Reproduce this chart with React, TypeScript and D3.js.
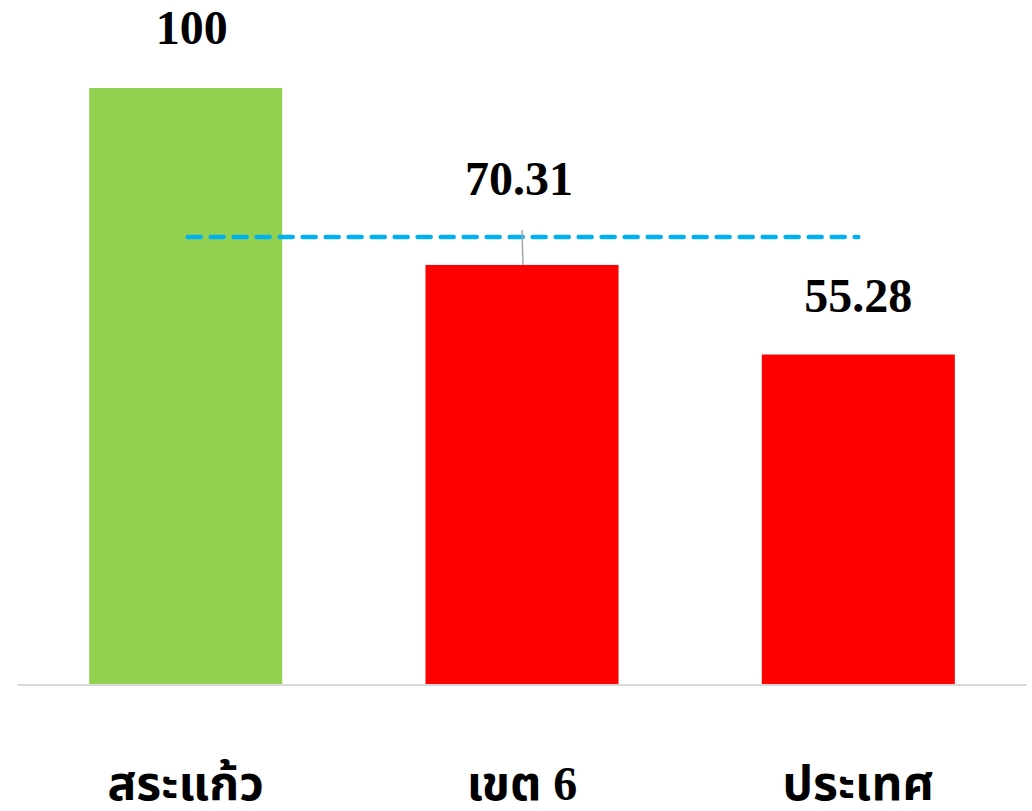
import React, { useEffect, useRef } from 'react';
import * as d3 from 'd3';

const categories = ['สระแก้ว', 'เขต 6', 'ประเทศ'];
const values = [100, 70.31, 55.28];
const barColors = ['#92d050', '#ff0000', '#ff0000'];
const targetValue = 75;

const App = () => {
    const svgRef = useRef<SVGSVGElement>(null);

    useEffect(() => {
        const svg = d3.select(svgRef.current);
        svg.selectAll('*').remove();

        const x = d3.scaleBand()
            .domain(categories)
            .range([17.5, 1026.5])
            .paddingInner(0.426)
            .paddingOuter(0.213);

        const y = d3.scaleLinear()
            .domain([0, 100])
            .range([684, 88]);

        const data = categories.map((c, i) => ({ cat: c, value: values[i], color: barColors[i] }));

        // Bars
        svg.selectAll('.bar')
            .data(data)
            .enter()
            .append('rect')
            .attr('x', d => x(d.cat)!)
            .attr('y', d => y(d.value))
            .attr('width', x.bandwidth())
            .attr('height', d => y(0) - y(d.value))
            .style('fill', d => d.color);

        // Baseline
        svg.append('line')
            .attr('x1', 17.5)
            .attr('x2', 1026.5)
            .attr('y1', y(0) + 1)
            .attr('y2', y(0) + 1)
            .style('stroke', '#d9d9d9')
            .style('stroke-width', 2);

        // Target line, first bar centre to last
        const c0 = x(categories[0])! + x.bandwidth() / 2;
        const c2 = x(categories[2])! + x.bandwidth() / 2;
        svg.append('line')
            .attr('x1', c0 + 2)
            .attr('x2', c2)
            .attr('y1', y(targetValue))
            .attr('y2', y(targetValue))
            .style('stroke', '#00b0f0')
            .style('stroke-width', 4.5)
            .style('stroke-dasharray', '13,10')
            .style('stroke-linecap', 'round');

        // second label is pulled up with a leader line
        const labelLift = [44, 70, 43];
        const labelShift = [6, -3, 0];

        const c1 = x(categories[1])! + x.bandwidth() / 2;
        svg.append('line')
            .attr('x1', c1)
            .attr('x2', c1 + 1)
            .attr('y1', y(values[1]) - 35)
            .attr('y2', y(values[1]))
            .style('stroke', '#a6a6a6')
            .style('stroke-width', 1.5);

        // Value labels
        svg.selectAll('.label')
            .data(data)
            .enter()
            .append('text')
            .attr('x', (d, i) => x(d.cat)! + x.bandwidth() / 2 + labelShift[i])
            .attr('y', (d, i) => y(d.value) - labelLift[i])
            .attr('text-anchor', 'middle')
            .style('font-family', '"Liberation Serif", "Times New Roman", serif')
            .style('font-weight', 'bold')
            .style('font-size', '48px')
            .style('fill', '#000')
            .text(d => String(d.value));

        // Category labels, digits kept in the serif face
        const cats = svg.selectAll('.cat')
            .data(categories)
            .enter()
            .append('text')
            .attr('x', d => x(d)! + x.bandwidth() / 2)
            .attr('y', 800)
            .attr('text-anchor', 'middle')
            .style('font-weight', 'bold')
            .style('font-size', '48px')
            .style('fill', '#000');

        cats.each(function (d) {
            const parts = d.match(/[\u0E00-\u0E7F]+|[^\u0E00-\u0E7F]+/g) || [];
            const t = d3.select(this);
            parts.forEach(p => {
                const thai = /[\u0E00-\u0E7F]/.test(p);
                t.append('tspan')
                    .style('font-family', thai
                        ? '"Noto Sans Thai", "Noto Serif Thai", "DejaVu Sans", sans-serif'
                        : '"Liberation Serif", "Times New Roman", serif')
                    .text(p);
            });
        });
    }, []);

    return (
        <svg
            ref={svgRef}
            width={1032}
            height={811}
            style={{ position: 'absolute', left: 0, top: 0, background: '#fff' }}
        />
    );
};

export default App;
